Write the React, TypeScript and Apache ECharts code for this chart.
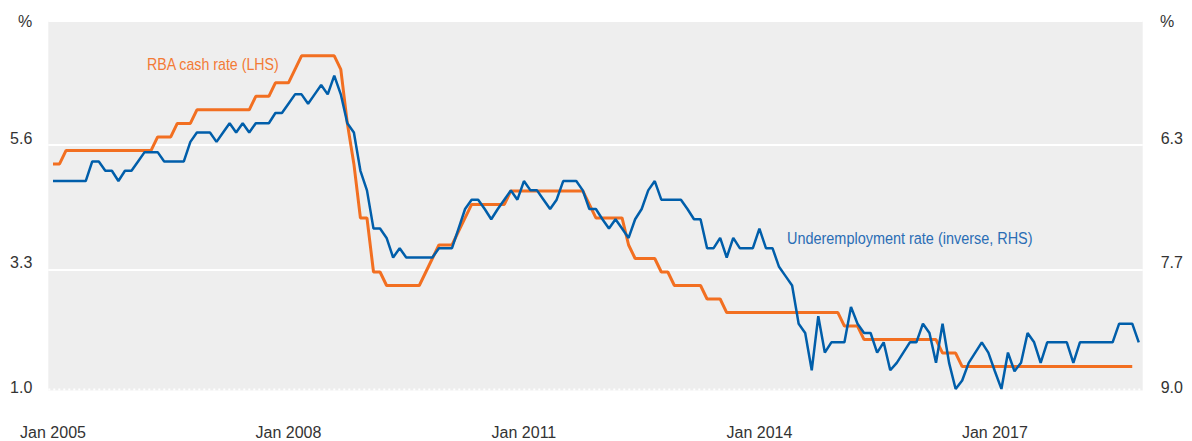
import React, { useEffect, useRef } from "react";
import * as echarts from "echarts";

// ---- Data (monthly, index 0 = Jan 2005) ----
const START_YEAR = 2005;

// RBA cash rate, % (LHS)
const cashRate: number[] = [
  // 2005
  5.25, 5.25, 5.5, 5.5, 5.5, 5.5, 5.5, 5.5, 5.5, 5.5, 5.5, 5.5,
  // 2006
  5.5, 5.5, 5.5, 5.5, 5.75, 5.75, 5.75, 6.0, 6.0, 6.0, 6.25, 6.25,
  // 2007
  6.25, 6.25, 6.25, 6.25, 6.25, 6.25, 6.25, 6.5, 6.5, 6.5, 6.75, 6.75,
  // 2008
  6.75, 7.0, 7.25, 7.25, 7.25, 7.25, 7.25, 7.25, 7.0, 6.0, 5.25, 4.25,
  // 2009
  4.25, 3.25, 3.25, 3.0, 3.0, 3.0, 3.0, 3.0, 3.0, 3.25, 3.5, 3.75,
  // 2010
  3.75, 3.75, 4.0, 4.25, 4.5, 4.5, 4.5, 4.5, 4.5, 4.5, 4.75, 4.75,
  // 2011
  4.75, 4.75, 4.75, 4.75, 4.75, 4.75, 4.75, 4.75, 4.75, 4.75, 4.5, 4.25,
  // 2012
  4.25, 4.25, 4.25, 4.25, 3.75, 3.5, 3.5, 3.5, 3.5, 3.25, 3.25, 3.0,
  // 2013
  3.0, 3.0, 3.0, 3.0, 2.75, 2.75, 2.75, 2.5, 2.5, 2.5, 2.5, 2.5,
  // 2014
  2.5, 2.5, 2.5, 2.5, 2.5, 2.5, 2.5, 2.5, 2.5, 2.5, 2.5, 2.5,
  // 2015
  2.5, 2.25, 2.25, 2.25, 2.0, 2.0, 2.0, 2.0, 2.0, 2.0, 2.0, 2.0,
  // 2016
  2.0, 2.0, 2.0, 2.0, 1.75, 1.75, 1.75, 1.5, 1.5, 1.5, 1.5, 1.5,
  // 2017
  1.5, 1.5, 1.5, 1.5, 1.5, 1.5, 1.5, 1.5, 1.5, 1.5, 1.5, 1.5,
  // 2018
  1.5, 1.5, 1.5, 1.5, 1.5, 1.5, 1.5, 1.5, 1.5, 1.5,
];

// Underemployment rate, % (RHS, inverted)
const underemployment: number[] = [
  // 2005
  6.72, 6.72, 6.72, 6.72, 6.72, 6.72, 6.51, 6.51, 6.61, 6.61, 6.72, 6.61,
  // 2006
  6.61, 6.51, 6.41, 6.41, 6.41, 6.51, 6.51, 6.51, 6.51, 6.3, 6.2, 6.2,
  // 2007
  6.2, 6.3, 6.2, 6.1, 6.2, 6.1, 6.2, 6.1, 6.1, 6.1, 5.99, 5.99,
  // 2008
  5.89, 5.79, 5.79, 5.89, 5.79, 5.69, 5.79, 5.59, 5.79, 6.1, 6.2, 6.61,
  // 2009
  6.82, 7.23, 7.23, 7.33, 7.54, 7.44, 7.54, 7.54, 7.54, 7.54, 7.54, 7.44,
  // 2010
  7.44, 7.44, 7.23, 7.02, 6.92, 6.92, 7.02, 7.13, 7.02, 6.92, 6.82, 6.92,
  // 2011
  6.72, 6.82, 6.82, 6.92, 7.02, 6.92, 6.72, 6.72, 6.72, 6.82, 7.02, 7.02,
  // 2012
  7.13, 7.23, 7.13, 7.23, 7.33, 7.13, 7.02, 6.82, 6.72, 6.92, 6.92, 6.92,
  // 2013
  6.92, 7.02, 7.13, 7.13, 7.44, 7.44, 7.33, 7.54, 7.33, 7.44, 7.44, 7.44,
  // 2014
  7.23, 7.44, 7.44, 7.64, 7.74, 7.84, 8.25, 8.35, 8.75, 8.17, 8.56, 8.45,
  // 2015
  8.45, 8.45, 8.07, 8.25, 8.35, 8.35, 8.56, 8.45, 8.75, 8.67, 8.56, 8.45,
  // 2016
  8.45, 8.25, 8.35, 8.67, 8.25, 8.67, 8.95, 8.86, 8.67, 8.56, 8.45, 8.56,
  // 2017
  8.76, 8.95, 8.56, 8.76, 8.67, 8.35, 8.45, 8.67, 8.45, 8.45, 8.45, 8.45,
  // 2018
  8.67, 8.45, 8.45, 8.45, 8.45, 8.45, 8.45, 8.25, 8.25, 8.25, 8.45,
];

// x-axis tick positions (months since Jan 2005)
const xTickMonths = [0, 36, 72, 108, 144];

const cashLabel = "RBA cash rate (LHS)";
const underLabel = "Underemployment rate (inverse, RHS)";
const unitLabel = "%";

const FONT = "'Liberation Sans Narrow', 'Arial Narrow', 'Liberation Sans', Arial, sans-serif";
const ORANGE = "#F26F21";
const BLUE = "#005EAA";
const TEXT = "#333333";

export default function App() {
  const ref = useRef<HTMLDivElement>(null);

  useEffect(() => {
    if (!ref.current) return;
    const chart = echarts.init(ref.current, undefined, { renderer: "svg" });

    const gridLeft = 48.3;
    const gridRight = 49.3;
    const gridTop = 20.7;
    const gridBottom = 47.4;
    const plotW = 1192 - gridLeft - gridRight;
    const plotBottomVisible = 390.5;

    const yLabel = {
      fontSize: 16,
      color: TEXT,
      fontFamily: FONT,
      verticalAlign: "bottom",
      lineHeight: 13,
    };

    chart.setOption({
      animation: false,
      backgroundColor: "#ffffff",
      textStyle: { fontFamily: FONT },
      grid: {
        left: gridLeft,
        right: gridRight,
        top: gridTop,
        bottom: gridBottom,
        show: true,
        backgroundColor: "#eeeeee",
        borderWidth: 0,
      },
      xAxis: {
        type: "value",
        min: -0.72,
        max: 166.6,
        axisLine: { show: false },
        axisTick: { show: false },
        splitLine: { show: false },
        axisLabel: {
          customValues: xTickMonths,
          formatter: (v: number) => "Jan " + (START_YEAR + Math.round(v / 12)),
          margin: 31,
          fontSize: 16,
          color: TEXT,
          fontFamily: FONT,
        },
      },
      yAxis: [
        {
          type: "value",
          position: "left",
          min: 1.0,
          max: 7.9,
          interval: 2.3,
          axisLine: { show: false },
          axisTick: { show: false },
          splitLine: { show: true, lineStyle: { color: "#ffffff", width: 2 } },
          axisLabel: {
            ...yLabel,
            formatter: (v: number) => (v > 7.8 ? "" : v.toFixed(1)),
            margin: 16,
          },
        },
        {
          type: "value",
          position: "right",
          min: 5,
          max: 9,
          interval: 4 / 3,
          inverse: true,
          axisLine: { show: false },
          axisTick: { show: false },
          splitLine: { show: false },
          axisLabel: {
            ...yLabel,
            formatter: (v: number) => (v < 5.1 ? "" : v.toFixed(1)),
            margin: 18,
          },
        },
      ],
      series: [
        {
          name: cashLabel,
          type: "line",
          yAxisIndex: 0,
          data: cashRate.map((v, i) => [i, v]),
          showSymbol: false,
          lineStyle: { color: ORANGE, width: 3 },
          itemStyle: { color: ORANGE },
          z: 2,
        },
        {
          name: underLabel,
          type: "line",
          yAxisIndex: 1,
          data: underemployment.map((v, i) => [i, v]),
          showSymbol: false,
          lineStyle: { color: BLUE, width: 2.5 },
          itemStyle: { color: BLUE },
          z: 3,
        },
      ],
      graphic: [
        {
          type: "rect",
          z: 1,
          silent: true,
          shape: { x: gridLeft - 1, y: plotBottomVisible, width: plotW + 2, height: 8 },
          style: { fill: "#ffffff" },
        },
        {
          type: "line",
          z: 1,
          silent: true,
          shape: { x1: gridLeft, y1: 389.5, x2: gridLeft + plotW, y2: 389.5 },
          style: { stroke: "#ffffff", lineWidth: 2, lineDash: [2, 3] },
        },
        {
          type: "text",
          x: 25,
          y: 21,
          style: { text: unitLabel, fill: TEXT, fontSize: 16, fontFamily: FONT, align: "center", verticalAlign: "middle" },
        },
        {
          type: "text",
          x: 1167,
          y: 21,
          style: { text: unitLabel, fill: TEXT, fontSize: 16, fontFamily: FONT, align: "center", verticalAlign: "middle" },
        },
        {
          type: "text",
          x: 147,
          y: 64,
          scaleX: 0.835,
          style: { text: cashLabel, fill: "#F37A35", fontSize: 17, fontFamily: FONT, align: "left", verticalAlign: "middle" },
        },
        {
          type: "text",
          x: 787,
          y: 238.5,
          scaleX: 0.85,
          style: { text: underLabel, fill: "#2A6DB5", fontSize: 17, fontFamily: FONT, align: "left", verticalAlign: "middle" },
        },
      ],
    });

    return () => chart.dispose();
  }, []);

  return (
    <div
      ref={ref}
      style={{ position: "absolute", left: 0, top: 0, width: 1192, height: 441, background: "#ffffff" }}
    />
  );
}
